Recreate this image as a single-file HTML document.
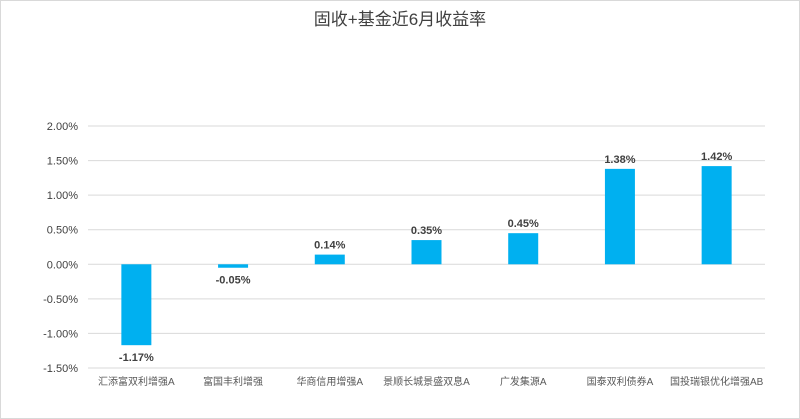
<!DOCTYPE html>
<html><head><meta charset="utf-8"><style>
body{margin:0;background:#fff}
svg{display:block;font-family:"Liberation Sans","Noto Sans CJK SC",sans-serif}
</style></head><body>
<svg width="800" height="419">
<rect x="0.5" y="0.5" width="799" height="418" fill="#fff" stroke="#d9d9d9"/>
<text x="400" y="25" text-anchor="middle" font-size="17" fill="#404040">固收+基金近6月收益率</text>
<g id="grid"></g><g id="bars"></g><g id="labels"></g>
</svg>
<script>
const categories=["汇添富双利增强A","富国丰利增强","华商信用增强A","景顺长城景盛双息A","广发集源A","国泰双利债券A","国投瑞银优化增强AB"];
const values=[-1.17,-0.05,0.14,0.35,0.45,1.38,1.42];
const ticks=[2.0,1.5,1.0,0.5,0.0,-0.5,-1.0,-1.5];
const L=88,R=765,T=126,B=368,ymax=2,ymin=-1.5;
const y=v=>T+(ymax-v)/(ymax-ymin)*(B-T);
const bw=(R-L)/categories.length;
const x=i=>L+bw*(i+0.5);
const ns="http://www.w3.org/2000/svg";
function mk(t,a,p,txt){const e=document.createElementNS(ns,t);for(const k in a)e.setAttribute(k,a[k]);if(txt!==undefined)e.textContent=txt;p.appendChild(e);return e;}
const g=document.getElementById('grid'),gb=document.getElementById('bars'),gl=document.getElementById('labels');
ticks.forEach(t=>{
const ln=mk('line',{x1:L,x2:R,y1:y(t),y2:y(t),stroke:'#d9d9d9'},g);


const tx=mk('text',{x:L-10,y:y(t)+4,'text-anchor':'end','font-size':11,fill:'#404040'},g,t.toFixed(2)+'%');


});
values.forEach((v,i)=>{
const top=Math.min(y(v),y(0)),h=Math.abs(y(v)-y(0));
const r=mk('rect',{x:x(i)-15,y:top,width:30,height:h,fill:'#00b0f0'},gb);


const ly=v>=0?y(v)-6:y(v)+16;
const t=mk('text',{x:x(i),y:ly,'text-anchor':'middle','font-size':11,'font-weight':'bold',fill:'#404040'},gl,v.toFixed(2)+'%');


const c=mk('text',{x:x(i),y:385,'text-anchor':'middle','font-size':10,fill:'#595959'},gl,categories[i]);


});
</script>
</body></html>
